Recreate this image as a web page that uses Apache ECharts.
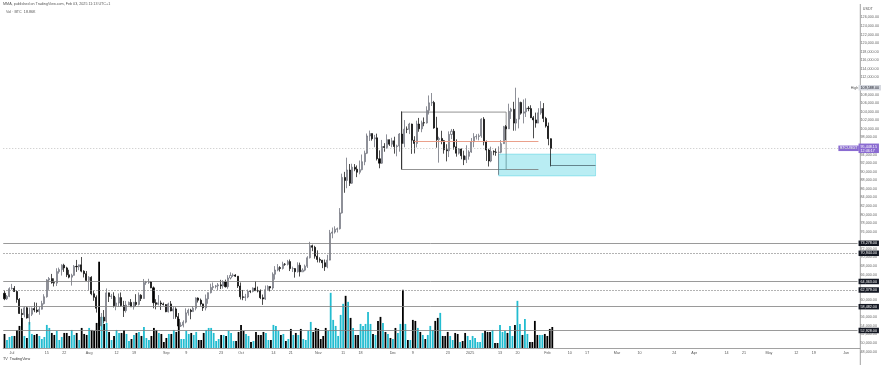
<!DOCTYPE html>
<html><head><meta charset="utf-8">
<script src="https://cdn.jsdelivr.net/npm/echarts@6/dist/echarts.min.js"></script>
<style>html,body{margin:0;padding:0;background:#fff}#c{width:882px;height:365px}</style>
</head><body><div id="c"></div>
<script>
// ---- Daily candles [open, high, low, close] ----
const ohlcJun24 = [[61612,62200,60000,60320],[60320,61200,60050,60890],[60890,63000,60700,62680]];
const ohlcJul24 = [[62680,63800,62500,62770],[62770,63300,61900,62030],[62030,62280,59400,60160],[60160,60500,56800,56900],[56900,58000,53500,56640],[56640,58500,56000,58230],[58230,58450,55700,55860],[55860,58300,54300,56710],[56710,58300,56300,58050],[58050,59500,57200,57720],[57720,59400,57050,57340],[57340,58500,56600,57890],[57890,59850,57800,59200],[59200,61400,59000,60800],[60800,64900,60600,64720],[64720,65400,62400,65040],[65040,66130,63850,64090],[64090,65100,63200,63990],[63990,67450,63300,66660],[66660,67600,66200,67140],[67140,68370,65750,68170],[68170,68500,66600,67540],[67540,67800,65400,65930],[65930,67100,65100,65370],[65370,66170,63400,65800],[65800,68200,65750,67900],[67900,69400,66600,67800],[67800,68300,67000,68250],[68250,70080,66500,66780],[66780,66990,65300,66190],[66190,66800,64520,64620]];
const ohlcAug24 = [[64620,65600,62300,65350],[65350,65600,61150,61500],[61500,62200,59850,60680],[60680,61120,57100,58120],[58120,58300,49000,54020],[54020,57000,53950,56040],[56040,57700,54560,55130],[55130,62750,54750,61710],[61710,61750,59570,60880],[60880,61470,60280,60950],[60950,61850,58300,58710],[58710,60700,57650,59350],[59350,61570,58420,60600],[60600,61800,58430,58740],[58740,59850,56080,57560],[57560,59830,57100,58870],[58870,59690,58800,59480],[59480,60260,58420,58440],[58440,59600,57800,59490],[59490,61400,58600,59010],[59010,61800,58780,61160],[61160,61400,59800,60380],[60380,64950,60350,64090],[64090,64500,63580,64180],[64180,65000,63800,64250],[64250,64480,62800,62880],[62880,63200,58100,59420],[59420,60230,57860,59030],[59030,61190,58790,59370],[59370,59900,57720,59120],[59120,59450,58760,58970]];
const ohlcSep24 = [[58970,59060,57200,57300],[57300,59420,57130,59130],[59130,59800,57410,57490],[57490,58520,55600,57970],[57970,58330,55650,56160],[56160,57000,52550,53960],[53960,54850,53740,54160],[54160,55300,53650,54870],[54870,58100,54590,57040],[57040,58040,56400,57650],[57650,57990,55550,57340],[57340,58600,57330,58130],[58130,60650,57630,60500],[60500,60660,59450,59990],[59990,60380,58700,59130],[59130,59200,57490,58210],[58210,61320,57610,60310],[60310,61790,59170,61760],[61760,63850,61570,62950],[62950,64130,62350,63200],[63200,63560,62760,63350],[63350,64000,62360,63580],[63580,64750,62590,63340],[63340,64690,62700,64260],[64260,64800,62950,63150],[63150,65840,62670,65180],[65180,66500,64830,65770],[65770,66260,65420,65870],[65870,66080,65420,65600],[65600,65620,62850,63300]];
const ohlcOct24 = [[63300,64130,60160,60800],[60800,62390,60000,60650],[60650,61470,59830,60750],[60750,62480,60460,62070],[62070,62370,61650,62050],[62050,62980,61830,62820],[62820,64480,62130,62220],[62220,63180,61820,62130],[62130,62520,60250,60580],[60580,61320,58900,60270],[60270,63420,60080,62450],[62450,63480,62430,63200],[63200,63280,62050,62850],[62850,66500,62420,66050],[66050,67950,64800,67040],[67040,68420,66750,67610],[67610,67940,66670,67400],[67400,68980,67150,68390],[68390,68670,68030,68360],[68360,69400,68100,69000],[69000,69500,66800,67370],[67370,67840,66570,67380],[67380,67480,65260,66650],[66650,68850,66460,68160],[68160,68770,65520,66630],[66630,67450,66590,67010],[67010,68310,66750,67930],[67930,70270,67520,69910],[69910,73620,69730,72720],[72720,72960,71440,72340],[72340,72700,69690,70280]];
const ohlcNov24 = [[70280,71630,68820,69500],[69500,70000,68780,69330],[69330,69400,67480,68740],[68740,69490,66840,67800],[67800,70580,67450,69350],[69350,76400,69300,75630],[75630,76950,74450,75900],[75900,77250,75550,76540],[76540,76950,75800,76680],[76680,81500,76500,80370],[80370,89530,80220,88650],[88650,89950,85070,87950],[87950,93260,86130,90380],[90380,91790,86660,87300],[87300,91850,87120,91040],[91040,91770,90100,90580],[90580,91450,88720,89860],[89860,92600,89380,90460],[90460,94000,90300,92310],[92310,94900,91500,94290],[94290,98900,94100,98330],[98330,99590,97160,98890],[98890,98900,97230,97670],[97670,98580,95700,97900],[97900,98870,92600,93010],[93010,94970,90790,91970],[91970,97400,91800,95860],[95860,96650,94650,95640],[95640,98700,95350,97460],[97460,97500,96000,96400]];
const ohlcDec24 = [[96400,97900,95700,97190],[97190,98150,94200,95840],[95840,96300,93580,96000],[96000,99000,94660,98770],[98770,104090,90500,96590],[96590,102040,95700,99920],[99920,100550,98990,99870],[99870,101400,98770,101110],[101110,101200,94150,97340],[97340,98270,94250,96590],[96590,101890,95650,101120],[101120,102540,99310,100000],[100000,101900,99200,101420],[101420,102650,100600,101370],[101370,105250,101220,104300],[104300,107780,103330,106060],[106060,108350,105320,106130],[106130,106520,100000,100200],[100200,102800,95590,97460],[97460,98150,92100,97760],[97760,99540,96400,97220],[97220,97400,94200,95110],[95110,96400,92400,94880],[94880,99400,93400,98680],[98680,99960,97600,99430],[99430,99960,95140,95790],[95790,97540,93500,94300],[94300,95500,94000,95280],[95280,95400,92880,93710],[93710,94900,91530,92790],[92790,96150,92000,93580]];
const ohlcJan25 = [[93580,95000,92800,94590],[94590,97840,94400,96980],[96980,98980,95700,98140],[98140,98750,97500,98220],[98220,98850,97300,98360],[98360,102480,97900,102240],[102240,102720,96130,96950],[96950,97260,92500,95040],[95040,95350,91200,92480],[92480,95830,92200,94700],[94700,94980,93830,94570],[94570,95400,93700,94510],[94510,95900,89260,94520],[94520,97360,94300,96530],[96530,100680,96500,100500],[100500,100870,97350,99990],[99990,105860,99950,104080],[104080,104900,102300,104560],[104560,106300,99550,101330],[101330,109590,99550,102260],[102260,107250,100100,106150],[106150,106330,103300,103650],[103650,106850,101260,103960],[103960,107100,102750,104820],[104820,105290,104100,104710],[104710,105500,102500,102590],[102590,103000,97780,102080],[102080,103780,100270,101330],[101330,104800,101330,103730],[103730,106450,103300,104730],[104730,106000,101560,102430]];
const ohlcFeb25 = [[102430,102780,100280,100630],[100630,101460,96150,97690],[97690,97780,91230,95448.15]];

// ---- Daily volume (K BTC) ----
const volJun24 = [12.6,7.2,9.9];
const volJul24 = [10.8,10.8,16.2,19.8,27,10.8,9,23.4,12.6,11.7,12.6,10.8,8.1,9.9,20.7,18,13.5,11.7,15.3,7.2,9.9,13.5,13.5,10.8,16.2,11.7,13.5,7.2,18,12.6,11.7];
const volAug24 = [18,16.2,15.3,22.5,77.4,27.9,21.6,22.5,14.4,7.2,10.8,16.2,13.5,13.5,16.2,12.6,6.3,8.1,11.7,13.5,14.4,10.8,18.9,9,7.2,10.8,18,16.2,13.5,12.6,5.4];
const volSep24 = [9,12.6,12.6,16.2,14.4,26.1,8.1,8.1,15.3,12.6,13.5,11.7,14.4,7.2,7.2,13.5,16.2,18,18,13.5,6.3,8.1,11.7,11.7,10.8,15.3,13.5,6.3,6.3,14.4];
const volOct24 = [20.7,15.3,12.6,10.8,5.4,6.3,14.4,11.7,11.7,14.4,13.5,7.2,7.2,20.7,19.8,15.3,11.7,12.6,6.3,8.1,17.1,11.7,13.5,11.7,17.1,8.1,7.2,15.3,23.4,14.4,18];
const volNov24 = [17.1,8.1,10.8,18,15.3,49.5,25.2,19.8,10.8,29.7,39.6,46.8,41.4,27,18,11.7,11.7,21.6,19.8,21.6,32.4,21.6,12.6,11.7,24.3,27.9,22.5,14.4,12.6,9];
const volDec24 = [8.1,18,13.5,21.6,52.2,21.6,7.2,7.2,25.2,24.3,18,14.4,11.7,8.1,11.7,19.8,16.2,24.3,27,31.5,10.8,10.8,14.4,10.8,7.2,13.5,12.6,5.4,6.3,13.5,10.8];
const volJan25 = [7.2,10.8,9,5.4,5.4,13.5,15.3,14.4,14.4,16.2,4.5,4.5,20.7,14.4,15.3,13.5,19.8,10.8,20.7,42.3,21.6,11.7,26.1,12.6,5.4,5.4,24.3,11.7,11.7,11.7,12.6];
const volFeb25 = [10.8,17.1,18.86];

// ---- Time axis tick labels ----
const tickDates = ['2024-07-01','2024-07-15','2024-07-22','2024-08-01','2024-08-12','2024-08-19','2024-09-01','2024-09-09','2024-09-23','2024-10-01','2024-10-14','2024-10-21','2024-11-01','2024-11-11','2024-11-18','2024-12-01','2024-12-09','2024-12-23','2025-01-01','2025-01-13','2025-01-20','2025-02-01','2025-02-10','2025-02-17','2025-03-01','2025-03-10','2025-03-24','2025-04-01','2025-04-14','2025-04-21','2025-05-01','2025-05-12','2025-05-19','2025-06-01'];
const tickTexts = ['Jul','15','22','Aug','12','19','Sep','9','23','Oct','14','21','Nov','11','18','Dec','9','23','2025','13','20','Feb','10','17','Mar','10','24','Apr','14','21','May','12','19','Jun'];

// ---- Horizontal levels ----
const solidLevels = [73278, 64363, 58482, 52928];
const dottedLevels = [70944, 62379];
const lastPrice = 95448.15;
const lastCountdown = '12:46:17';
const highPrice = 109588;

// ---- Drawings ----
const rangeBox = {from:'2024-12-05', to:'2025-01-16', top:103900, bottom:90500};
const rangeBottomExt = {from:'2025-01-16', to:'2025-01-29', value:90500};
const rangeMid = {from:'2024-12-10', to:'2025-01-29', value:97200};
const demandZone = {from:'2025-01-13', to:'2025-02-21', top:94100, bottom:89000};
const lowLine = {from:'2025-02-03', to:'2025-02-21', value:91480};

// ---------------------------------------------------------
const dates = [];
for (let t = Date.UTC(2024,5,28); t <= Date.UTC(2025,5,6); t += 86400000) dates.push(new Date(t).toISOString().slice(0,10));
const ohlc = [].concat(ohlcJun24, ohlcJul24, ohlcAug24, ohlcSep24, ohlcOct24, ohlcNov24, ohlcDec24, ohlcJan25, ohlcFeb25);
const vols = [].concat(volJun24, volJul24, volAug24, volSep24, volOct24, volNov24, volDec24, volJan25, volFeb25);
const CYAN = '#22bcd0';
const FONT = "'Liberation Sans', Arial, sans-serif";
const FS = 3.7;
const fmt = v => Number(v).toLocaleString('en-US',{minimumFractionDigits:2, maximumFractionDigits:2});
const specials = solidLevels.concat(dottedLevels, [lastPrice, highPrice]);

const candleData = ohlc.map(r => [r[0], r[3], r[2], r[1]]);
const volData = vols.map((v,i) => ({value:v, itemStyle:{color: ohlc[i][3] >= ohlc[i][0] ? CYAN : '#000'}}));

const blackLabel = {show:true, position:'end', distance:1, formatter:p=>fmt(p.value), backgroundColor:'#131722', color:'#fff', fontSize:FS, fontFamily:FONT, padding:[1,2,0.5,2]};
const levelLines = solidLevels.map(v => ({yAxis:v, lineStyle:{color:'#808080', type:'solid', width:0.8}, label:blackLabel}))
  .concat(dottedLevels.map(v => ({yAxis:v, lineStyle:{color:'#808080', type:[1.5,1.5], width:0.8}, label:blackLabel})));

const chart = echarts.init(document.getElementById('c'), null, {renderer:'canvas'});
const L = 3.25, R = 22.2;
const titleStyle = {fontSize:FS, color:'#555', fontWeight:'normal', fontFamily:FONT};
chart.setOption({
  animation:false,
  backgroundColor:'#fff',
  textStyle:{fontFamily:FONT},
  title:[
    {text:'MMA, published on TradingView.com, Feb 03, 2025 11:13 UTC+1', left:3, top:2, padding:0, textStyle:titleStyle},
    {text:'Vol · BTC  18.86K', left:6, top:10, padding:0, textStyle:titleStyle},
    {text:'TV  TradingView', left:3, top:357, padding:0, textStyle:{fontSize:FS, color:'#333', fontWeight:'normal', fontFamily:FONT}}
  ],
  grid:[
    {left:L, right:R, top:17.4, bottom:13.4},
    {left:L, right:R, top:8, bottom:17}
  ],
  xAxis:[
    {type:'category', data:dates, gridIndex:0, boundaryGap:true, show:false},
    {type:'category', data:dates, gridIndex:1, boundaryGap:true,
     axisLine:{show:true, lineStyle:{color:'#8a8a8a', width:0.8}}, axisTick:{show:false}, splitLine:{show:false},
     axisLabel:{show:true, interval:(i,v)=>tickDates.indexOf(v) >= 0, formatter:v=>tickTexts[tickDates.indexOf(v)] || '', fontSize:FS, color:'#555', margin:2.5, hideOverlap:false, fontFamily:FONT}}
  ],
  yAxis:[
    {type:'value', gridIndex:0, position:'right', min:48000, max:126000, interval:2000, scale:false,
     axisLine:{show:false}, axisTick:{show:false}, splitLine:{show:false},
     axisLabel:{show:true, fontSize:FS, color:'#666', margin:3, align:'left', fontFamily:FONT, showMinLabel:true, showMaxLabel:true,
       formatter:v => specials.some(s => Math.abs(s - v) < 900) ? '' : fmt(v)}},
    {type:'value', gridIndex:1, min:0, max:305, show:false}
  ],
  series:[
    {type:'bar', name:'Vol', xAxisIndex:1, yAxisIndex:1, data:volData, barWidth:'72%', z:1, silent:true},
    {type:'candlestick', name:'BTCUSDT', xAxisIndex:0, yAxisIndex:0, data:candleData, barWidth:'62%', z:3, silent:true,
     itemStyle:{color:'#ffffff', color0:'#000000', borderColor:'#5d606b', borderColor0:'#000000', borderWidth:0.7},
     markLine:{silent:true, symbol:['none','none'], animation:false,
       data: levelLines.concat([
         {yAxis:lastPrice, lineStyle:{color:'#9e9e9e', type:[1,2], width:0.6},
          label:{show:true, position:'end', distance:1, formatter:'{a|'+fmt(lastPrice)+'}\n{b|'+lastCountdown+'}', backgroundColor:'#8a6bd1', padding:[1,2,0.5,2],
                 rich:{a:{color:'#fff', fontSize:FS, fontFamily:FONT, lineHeight:4}, b:{color:'#fff', fontSize:FS, fontFamily:FONT, lineHeight:4}}}},
         {yAxis:highPrice, lineStyle:{color:'rgba(0,0,0,0)', width:0.1},
          label:{show:true, position:'end', distance:1, formatter:fmt(highPrice), backgroundColor:'#d6d9e0', color:'#131722', fontSize:FS, fontFamily:FONT, padding:[1,2,0.5,2]}},
         [{coord:[rangeMid.from, rangeMid.value], lineStyle:{color:'#e8957e', type:'solid', width:0.9}, label:{show:false}}, {coord:[rangeMid.to, rangeMid.value]}],
         [{coord:[rangeBottomExt.from, rangeBottomExt.value], lineStyle:{color:'#777', type:'solid', width:0.8}, label:{show:false}}, {coord:[rangeBottomExt.to, rangeBottomExt.value]}],
         [{coord:[lowLine.from, lowLine.value], lineStyle:{color:'#4e6a72', type:'solid', width:0.8}, label:{show:false}}, {coord:[lowLine.to, lowLine.value]}]
       ])},
     markArea:{silent:true,
       data:[
         [{xAxis:rangeBox.from, yAxis:rangeBox.top, itemStyle:{color:'rgba(0,0,0,0)', borderColor:'#777', borderWidth:0.8}}, {xAxis:rangeBox.to, yAxis:rangeBox.bottom}],
         [{xAxis:demandZone.from, yAxis:demandZone.top, itemStyle:{color:'rgba(38,198,218,0.32)', borderColor:'rgba(38,198,218,0.6)', borderWidth:0.6}}, {xAxis:demandZone.to, yAxis:demandZone.bottom}]
       ]}
    }
  ]
});

// axis decorations and side tags placed through the chart's own scale
const yHigh = chart.convertToPixel({yAxisIndex:0}, highPrice);
const yLast = chart.convertToPixel({yAxisIndex:0}, lastPrice);
const axisX = 882 - R;
chart.setOption({graphic:[
  {type:'line', shape:{x1:axisX+0.5, y1:4, x2:axisX+0.5, y2:365}, style:{stroke:'#8a8a8a', lineWidth:0.8}, silent:true},
  {type:'text', x:axisX+3, y:9, style:{text:'USDT', fontSize:FS, fill:'#555', fontFamily:FONT, verticalAlign:'middle'}, silent:true},
  {type:'text', x:axisX-1.5, y:yHigh, style:{text:'High', fontSize:FS, fill:'#555', fontFamily:FONT, align:'right', verticalAlign:'middle'}, silent:true},
  {type:'text', x:axisX-1, y:yLast, style:{text:'BTCUSDT', fontSize:FS, fill:'#fff', backgroundColor:'#8a6bd1', padding:[1,1.5,0.5,1.5], fontFamily:FONT, align:'right', verticalAlign:'middle'}, silent:true}
]});
</script></body></html>
